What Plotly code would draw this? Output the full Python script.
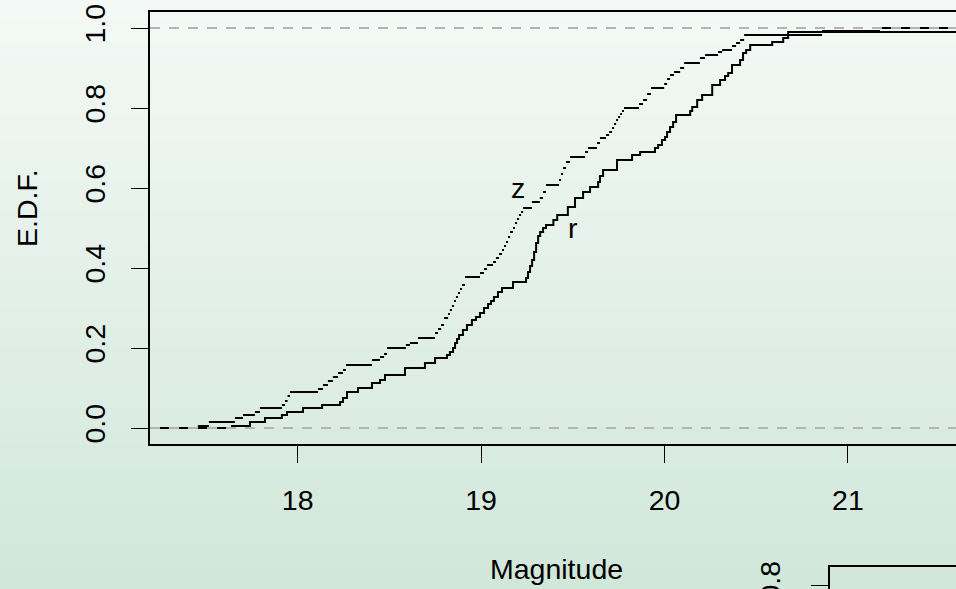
import plotly.graph_objects as go

# ---- data ----
r_x = [17.642, 17.74, 17.822, 17.914, 17.942, 18.029, 18.133, 18.231, 18.247, 18.269,
       18.329, 18.405, 18.449, 18.476, 18.585, 18.694, 18.749, 18.814, 18.83, 18.847,
       18.858, 18.869, 18.88, 18.901, 18.923, 18.95, 18.972, 18.994, 19.016, 19.038,
       19.054, 19.07, 19.092, 19.114, 19.174, 19.245, 19.256, 19.267, 19.278, 19.289,
       19.3, 19.311, 19.322, 19.338, 19.354, 19.394, 19.415, 19.473, 19.512, 19.556,
       19.594, 19.638, 19.648, 19.665, 19.741, 19.823, 19.867, 19.948, 19.965, 19.986,
       20.003, 20.014, 20.03, 20.047, 20.063, 20.14, 20.151, 20.178, 20.205, 20.26,
       20.303, 20.33, 20.347, 20.368, 20.412, 20.428, 20.445, 20.467, 20.587, 20.647,
       20.674]
r_y = [0.005, 0.015, 0.025, 0.0325, 0.04, 0.05, 0.0575, 0.065, 0.075, 0.09,
       0.1, 0.1125, 0.12, 0.1325, 0.15, 0.1625, 0.175, 0.1825, 0.19, 0.2,
       0.2125, 0.2225, 0.2325, 0.245, 0.2575, 0.27, 0.2775, 0.2875, 0.3, 0.31,
       0.3175, 0.3275, 0.34, 0.35, 0.365, 0.375, 0.39, 0.405, 0.42, 0.44,
       0.4625, 0.48, 0.49, 0.5, 0.5075, 0.52, 0.5325, 0.5525, 0.575, 0.59,
       0.6025, 0.615, 0.63, 0.645, 0.67, 0.6825, 0.69, 0.7, 0.7075, 0.72,
       0.7275, 0.74, 0.7525, 0.765, 0.7825, 0.7925, 0.8025, 0.82, 0.8325, 0.8575,
       0.87, 0.88, 0.8875, 0.9075, 0.92, 0.9375, 0.945, 0.9575, 0.965, 0.975,
       0.99]

z_x = [17.456, 17.516, 17.658, 17.702, 17.767, 17.794, 17.914, 17.931, 17.945, 17.958,
       18.111, 18.138, 18.165, 18.192, 18.22, 18.247, 18.263, 18.405, 18.449, 18.471,
       18.487, 18.59, 18.612, 18.656, 18.749, 18.765, 18.782, 18.798, 18.82, 18.83,
       18.841, 18.852, 18.863, 18.874, 18.885, 18.896, 18.912, 18.994, 19.016, 19.032,
       19.065, 19.081, 19.098, 19.114, 19.125, 19.136, 19.147, 19.158, 19.174, 19.185,
       19.196, 19.207, 19.218, 19.229, 19.277, 19.32, 19.337, 19.354, 19.425, 19.436,
       19.447, 19.463, 19.485, 19.567, 19.583, 19.632, 19.648, 19.681, 19.698, 19.714,
       19.725, 19.736, 19.747, 19.758, 19.768, 19.779, 19.861, 19.883, 19.905, 19.926,
       19.998, 20.014, 20.03, 20.052, 20.085, 20.107, 20.193, 20.221, 20.292, 20.314,
       20.368, 20.39, 20.412, 20.434, 20.859, 21.175]
z_y = [0.005, 0.015, 0.025, 0.0325, 0.04, 0.05, 0.0575, 0.0675, 0.08, 0.09,
       0.0975, 0.1075, 0.1175, 0.1275, 0.1375, 0.145, 0.1575, 0.17, 0.1775, 0.185,
       0.2, 0.2075, 0.2125, 0.225, 0.2375, 0.2475, 0.2575, 0.275, 0.285, 0.295,
       0.305, 0.3175, 0.3275, 0.3375, 0.3475, 0.3575, 0.3775, 0.3875, 0.3975, 0.4075,
       0.415, 0.425, 0.435, 0.445, 0.455, 0.465, 0.4775, 0.49, 0.5, 0.5125,
       0.5225, 0.5325, 0.54, 0.55, 0.565, 0.575, 0.59, 0.6075, 0.62, 0.635,
       0.65, 0.665, 0.6775, 0.69, 0.7, 0.7125, 0.725, 0.7325, 0.74, 0.75,
       0.76, 0.77, 0.7775, 0.785, 0.7925, 0.8, 0.81, 0.82, 0.835, 0.85,
       0.86, 0.8725, 0.8825, 0.89, 0.9, 0.9125, 0.925, 0.9325, 0.94, 0.945,
       0.955, 0.9625, 0.97, 0.9825, 0.9925, 1.0]

x_ticks = [18, 19, 20, 21]
y_ticks = [0.0, 0.2, 0.4, 0.6, 0.8, 1.0]
y_ticktext = ["0.0", "0.2", "0.4", "0.6", "0.8", "1.0"]
x_range = [17.195, 21.589]
y_range = [-0.04, 1.04]

labels = [("z", 19.2, 0.6), ("r", 19.5, 0.5)]

W, H = 956, 589
FONT = "Liberation Sans, Arial, Helvetica, sans-serif"
FS = 28.5

fig = go.Figure()

# r: staircase with verticals
fig.add_trace(go.Scatter(
    x=[x_range[0]] + r_x + [x_range[1] + 0.5],
    y=[0.0] + r_y + [r_y[-1]],
    mode="lines", line=dict(color="black", width=2, shape="hv"),
    hoverinfo="skip", showlegend=False))

# z: horizontal segments only
zx_seg, zy_seg = [], []
starts = [x_range[0]] + z_x
ends = z_x + [x_range[1] + 0.5]
levels = [0.0] + z_y
for a, b, lv in zip(starts, ends, levels):
    zx_seg += [a, b, None]
    zy_seg += [lv, lv, None]
fig.add_trace(go.Scatter(
    x=zx_seg, y=zy_seg, mode="lines",
    line=dict(color="black", width=2),
    hoverinfo="skip", showlegend=False))

# partial second panel (bottom right)
fig.add_trace(go.Scatter(x=[0], y=[0.9], xaxis="x2", yaxis="y2",
                         mode="markers", marker=dict(opacity=0),
                         hoverinfo="skip", showlegend=False))

# gradient background bands
shapes = []
N = 120
top = (244, 249, 246)
bot = (209, 231, 218)
for i in range(N):
    t = i / (N - 1)
    c = tuple(round(top[k] + (bot[k] - top[k]) * t) for k in range(3))
    shapes.append(dict(type="rect", xref="paper", yref="paper",
                       x0=0, x1=1, y0=1 - (i + 1) / N, y1=1 - i / N + 0.002,
                       fillcolor="rgb(%d,%d,%d)" % c, line=dict(width=0),
                       layer="below"))
# dashed reference lines at 0 and 1 (drawn over the curves)
for lv in (0.0, 1.0):
    shapes.append(dict(type="line", xref="x domain", yref="y",
                       x0=0, x1=1, y0=lv, y1=lv,
                       line=dict(color="#b4b4b4", width=2, dash="10px,9px"),
                       layer="above"))

annotations = [
    dict(text=t, x=x, y=y, xref="x", yref="y", showarrow=False,
         xanchor="center", yanchor="middle",
         font=dict(family=FONT, size=FS, color="black"))
    for t, x, y in labels
]
annotations.append(dict(text="Magnitude", x=556 / W, y=1 - 569 / H,
                        xref="paper", yref="paper", showarrow=False,
                        xanchor="center", yanchor="middle",
                        font=dict(family=FONT, size=FS, color="black")))
annotations.append(dict(text="E.D.F.", x=27 / W, y=1 - 208 / H,
                        xref="paper", yref="paper", showarrow=False, textangle=-90,
                        xanchor="center", yanchor="middle",
                        font=dict(family=FONT, size=FS, color="black")))

axis_common = dict(showgrid=False, zeroline=False, automargin=False,
                   ticks="outside", ticklen=17, tickwidth=1.3, tickcolor="black",
                   showline=True, linecolor="black", linewidth=1.5,
                   ticklabeloverflow="allow",
                   tickfont=dict(family=FONT, size=FS, color="black"))

fig.update_layout(
    template="none",
    width=W, height=H, autosize=False,
    margin=dict(l=0, r=0, t=0, b=0, pad=0),
    paper_bgcolor="rgb(228,240,233)",
    plot_bgcolor="rgba(0,0,0,0)",
    font=dict(family=FONT, size=FS, color="black"),
    shapes=shapes, annotations=annotations,
    xaxis=dict(domain=[150 / W, 1], range=x_range, tickvals=x_ticks,
               ticktext=[str(v) for v in x_ticks], mirror=True,
               ticklabelstandoff=13, **axis_common),
    yaxis=dict(domain=[145 / H, 577 / H], range=y_range, tickvals=y_ticks,
               ticktext=y_ticktext, tickangle=-90,
               ticklabelstandoff=15, **axis_common),
    xaxis2=dict(domain=[830 / W, 1], range=[0, 1], anchor="y2", side="top",
                showline=True, linecolor="black", linewidth=1.5, automargin=False,
                showticklabels=False, ticks="", showgrid=False, zeroline=False),
    yaxis2=dict(domain=[0, 22 / H], range=[0.79, 0.845], anchor="x2",
                tickvals=[0.8], ticktext=["0.8"], tickangle=-90,
                ticklabelstandoff=20, **axis_common),
)

fig.write_html("out.html")
